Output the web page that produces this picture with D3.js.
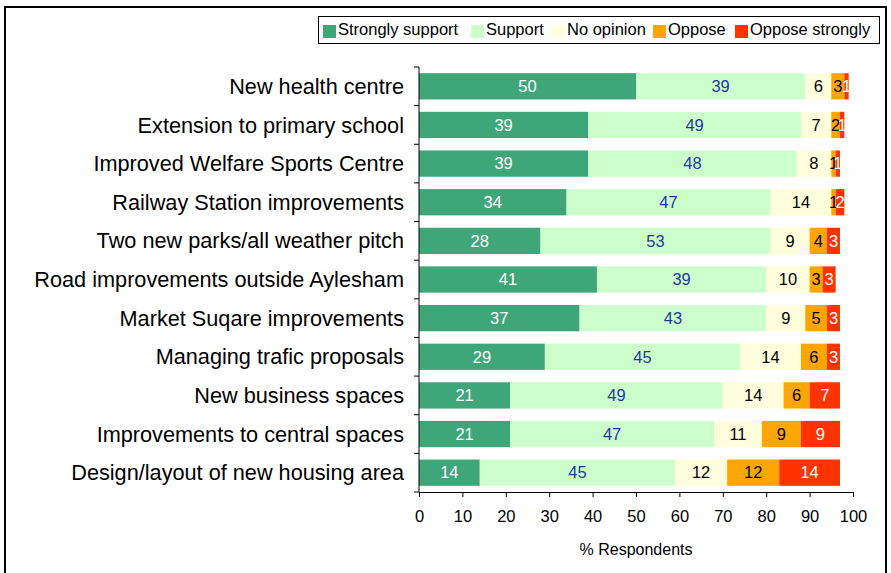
<!DOCTYPE html>
<html>
<head>
<meta charset="utf-8">
<script src="https://cdn.jsdelivr.net/npm/d3@7"></script>
<style>
  html, body { margin: 0; padding: 0; background: #fff; }
  svg { display: block; font-family: "Liberation Sans", Arial, sans-serif; }
</style>
</head>
<body>
<svg id="chart" width="891" height="573"></svg>
<script>
// Survey responses: % of respondents per proposal
const categories = [
  "New health centre",
  "Extension to primary school",
  "Improved Welfare Sports Centre",
  "Railway Station improvements",
  "Two new parks/all weather pitch",
  "Road improvements outside Aylesham",
  "Market Suqare improvements",
  "Managing trafic proposals",
  "New business spaces",
  "Improvements to central spaces",
  "Design/layout of new housing area"
];
const seriesNames = ["Strongly support", "Support", "No opinion", "Oppose", "Oppose strongly"];
const stronglySupport = [50, 39, 39, 34, 28, 41, 37, 29, 21, 21, 14];
const support         = [39, 49, 48, 47, 53, 39, 43, 45, 49, 47, 45];
const noOpinion       = [ 6,  7,  8, 14,  9, 10,  9, 14, 14, 11, 12];
const oppose          = [ 3,  2,  1,  1,  4,  3,  5,  6,  6,  9, 12];
const opposeStrongly  = [ 1,  1,  1,  2,  3,  3,  3,  3,  7,  9, 14];
const xTicks = [0, 10, 20, 30, 40, 50, 60, 70, 80, 90, 100];

const fills     = ["#3fa67a", "#ccffcc", "#ffffdd", "#ffa500", "#ff3300"];
const textFills = ["#ffffff", "#1f3a9e", "#000000", "#000000", "#ffffff"];

const rows = categories.map((c, i) => ({
  category: c,
  "Strongly support": stronglySupport[i],
  "Support": support[i],
  "No opinion": noOpinion[i],
  "Oppose": oppose[i],
  "Oppose strongly": opposeStrongly[i]
}));
const stacked = d3.stack().keys(seriesNames)(rows);

const svg = d3.select("#chart");

// outer frame
svg.append("rect")
  .attr("x", 5).attr("y", 7).attr("width", 881).attr("height", 580)
  .attr("fill", "none").attr("stroke", "#000").attr("stroke-width", 2);

const x = d3.scaleLinear().domain([0, 100]).range([419, 853]);
const y = d3.scaleBand().domain(categories).range([67, 492])
  .paddingInner(0.32).paddingOuter(0.16);

// bars
const layer = svg.append("g").selectAll("g").data(stacked).join("g")
  .attr("fill", (d, i) => fills[i]);
layer.selectAll("rect").data(d => d).join("rect")
  .attr("x", d => x(d[0]))
  .attr("y", d => y(d.data.category))
  .attr("width", d => x(d[1]) - x(d[0]))
  .attr("height", y.bandwidth());

// value labels
stacked.forEach((s, si) => {
  svg.append("g").selectAll("text").data(s).join("text")
    .attr("x", d => (x(d[0]) + x(d[1])) / 2)
    .attr("y", d => y(d.data.category) + y.bandwidth() / 2)
    .attr("dy", "0.35em")
    .attr("text-anchor", "middle")
    .attr("font-size", 16.5)
    .attr("fill", textFills[si])
    .text(d => d[1] - d[0]);
});

// y axis
const yAxis = svg.append("g");
yAxis.append("line")
  .attr("x1", x(0)).attr("x2", x(0))
  .attr("y1", y.range()[0]).attr("y2", y.range()[1])
  .attr("stroke", "#000");
const step = y.step();
yAxis.selectAll("line.tick").data(d3.range(categories.length + 1)).join("line")
  .attr("class", "tick")
  .attr("x1", x(0) - 5).attr("x2", x(0))
  .attr("y1", i => y.range()[0] + i * step)
  .attr("y2", i => y.range()[0] + i * step)
  .attr("stroke", "#000");
yAxis.selectAll("text").data(categories).join("text")
  .attr("x", 404)
  .attr("y", d => y(d) + y.bandwidth() / 2)
  .attr("dy", "0.35em")
  .attr("text-anchor", "end")
  .attr("font-size", 21.7)
  .attr("fill", "#000")
  .text(d => d);

// x axis
const xAxis = svg.append("g").attr("transform", `translate(0,${y.range()[1]})`)
  .call(d3.axisBottom(x).tickValues(xTicks).tickSize(5).tickSizeOuter(0).tickPadding(13));
xAxis.select(".domain").attr("stroke", "#000");
xAxis.selectAll(".tick line").attr("stroke", "#000");
xAxis.selectAll(".tick text").attr("font-size", 16.5).attr("fill", "#000")
  .attr("font-family", "Liberation Sans, Arial, sans-serif");

svg.append("text")
  .attr("x", x(50)).attr("y", 549).attr("dy", "0.35em")
  .attr("text-anchor", "middle")
  .attr("font-size", 16)
  .text("% Respondents");

// legend
const legend = svg.append("g");
legend.append("rect")
  .attr("x", 318.5).attr("y", 16.5).attr("width", 561).attr("height", 27)
  .attr("fill", "#fff").attr("stroke", "#000");
const legendX = [323, 471, 552, 653, 735];
seriesNames.forEach((name, i) => {
  legend.append("rect")
    .attr("x", legendX[i]).attr("y", 25).attr("width", 13).attr("height", 13)
    .attr("fill", fills[i]);
  legend.append("text")
    .attr("x", legendX[i] + 15).attr("y", 29.5).attr("dy", "0.35em")
    .attr("font-size", 16.5)
    .text(name);
});
</script>
</body>
</html>
